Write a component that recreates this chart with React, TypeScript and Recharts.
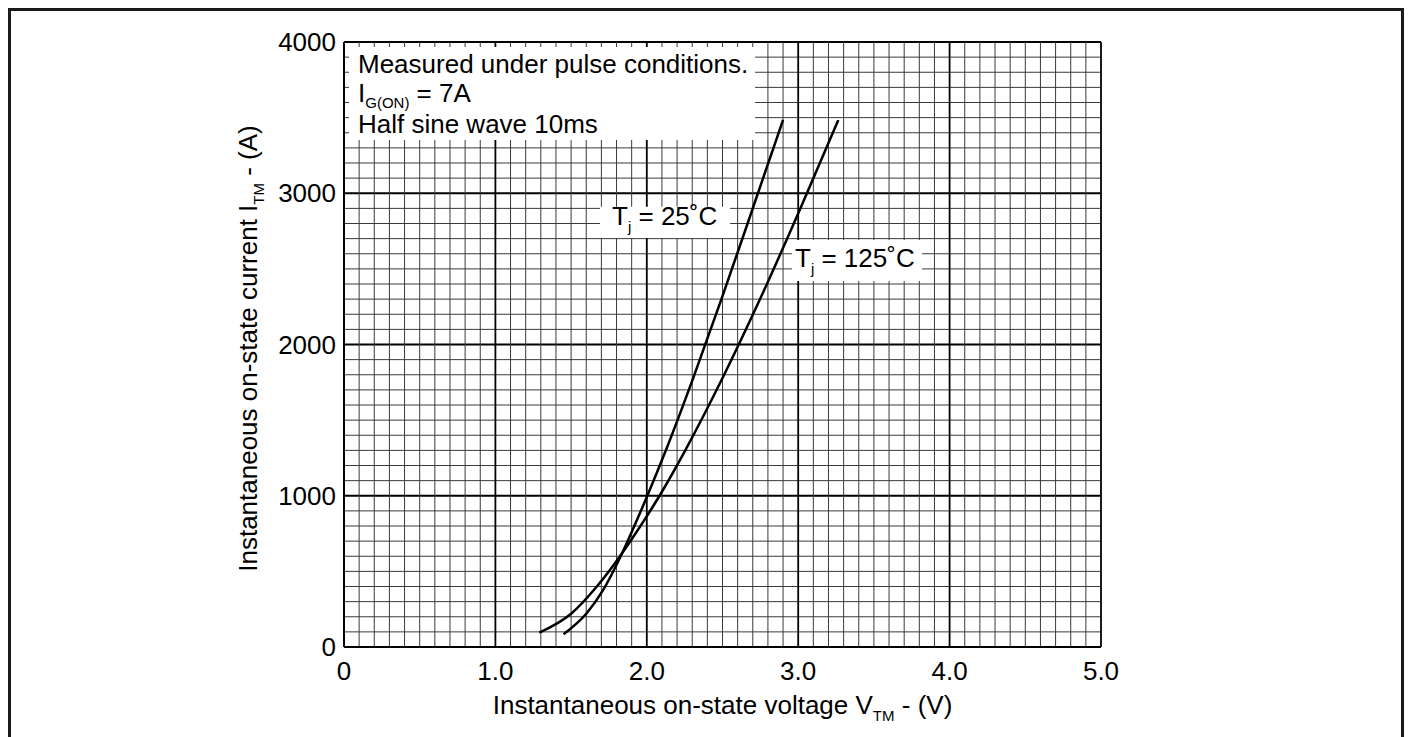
import React from 'react';
import { LineChart, Line, XAxis, YAxis, CartesianGrid, ReferenceArea } from 'recharts';

// grid steps: 0.1 V and 100 A, labels every 10th step
const voltTicks = Array.from({ length: 51 }, (_, k) => k / 10);
const currentTicks = Array.from({ length: 41 }, (_, k) => k * 100);
const voltLabels = ['0', '1.0', '2.0', '3.0', '4.0', '5.0'];
const currentLabels = ['0', '1000', '2000', '3000', '4000'];

// Tj = 25 C
const v25 = [1.45, 1.6, 1.71, 1.81, 1.87, 2.0, 2.13, 2.31, 2.5, 2.69, 2.9];
const i25 = [85, 220, 374, 564, 693, 992, 1311, 1788, 2320, 2871, 3485];

// Tj = 125 C
const v125 = [1.29, 1.5, 1.67, 1.81, 1.9, 2.09, 2.255, 2.51, 2.745, 3.01, 3.265];
const i125 = [95, 220, 400, 582, 712, 1010, 1302, 1798, 2294, 2889, 3485];

const tj25 = v25.map((v, k) => ({ v, i: i25[k] }));
const tj125 = v125.map((v, k) => ({ v, i: i125[k] }));

const FONT = '"Liberation Sans", Arial, Helvetica, sans-serif';

const gridLine = (p: any) => {
  const major = p.index % 10 === 0;
  return (
    <line
      key={p.key}
      x1={p.x1}
      y1={p.y1}
      x2={p.x2}
      y2={p.y2}
      stroke={major ? '#000' : '#3a3a3a'}
      strokeWidth={major ? 1.8 : 1}
    />
  );
};

const XTitle = (props: any) => {
  const { x, y, width } = props.viewBox;
  return (
    <text x={x + width / 2} y={y + 67} textAnchor="middle" fontSize={26} fontFamily={FONT} fill="#000">
      Instantaneous on-state voltage V
      <tspan fontSize={15} dy={7}>TM</tspan>
      <tspan dy={-7}> - (V)</tspan>
    </text>
  );
};

const YTitle = (props: any) => {
  const { x, y, height } = props.viewBox;
  const cx = x + 13;
  const cy = y + height / 2 + 4;
  return (
    <text
      x={cx}
      y={cy}
      textAnchor="middle"
      fontSize={26}
      fontFamily={FONT}
      fill="#000"
      transform={`rotate(-90 ${cx} ${cy})`}
    >
      Instantaneous on-state current I
      <tspan fontSize={15} dy={7}>TM</tspan>
      <tspan dy={-7}> - (A)</tspan>
    </text>
  );
};

const NoteText = (props: any) => {
  const { x, y } = props.viewBox;
  return (
    <text fontSize={26} fontFamily={FONT} fill="#000">
      <tspan x={x + 9} y={y + 26}>Measured under pulse conditions.</tspan>
      <tspan x={x + 9} y={y + 55}>I</tspan>
      <tspan fontSize={15} dy={6}>G(ON)</tspan>
      <tspan dy={-6}> = 7A</tspan>
      <tspan x={x + 9} y={y + 86}>Half sine wave 10ms</tspan>
    </text>
  );
};

const tjText = (temp: string, dx: number, dy: number) => (props: any) => {
  const { x, y } = props.viewBox;
  return (
    <text x={x + dx} y={y + dy} fontSize={26} fontFamily={FONT} fill="#000">
      T
      <tspan fontSize={15} dy={7}>j</tspan>
      <tspan dy={-7}>{` = ${temp}˚C`}</tspan>
    </text>
  );
};

const tickStyle = { fill: '#000', fontSize: 26, fontFamily: FONT };

const App = () => {
  return (
    <div
      style={{
        position: 'fixed',
        left: 8,
        top: 8,
        width: 1390,
        height: 760,
        borderTop: '3px solid #1a1a1a',
        borderLeft: '3px solid #1a1a1a',
        borderRight: '3px solid #1a1a1a',
        background: '#fff',
        fontFamily: FONT,
      }}
    >
      <LineChart width={1389} height={720} margin={{ top: 31, right: 299, left: 233, bottom: 44 }}>
        <CartesianGrid horizontal={gridLine} vertical={gridLine} />
        <XAxis
          type="number"
          dataKey="v"
          domain={[0, 5]}
          ticks={voltTicks}
          interval={0}
          allowDataOverflow
          tickFormatter={(_v: number, idx: number) => (idx % 10 === 0 ? voltLabels[idx / 10] : '')}
          tickLine={false}
          tickSize={6}
          tickMargin={9}
          height={40}
          axisLine={{ stroke: '#000', strokeWidth: 2 }}
          tick={tickStyle}
          label={XTitle}
        />
        <YAxis
          type="number"
          domain={[0, 4000]}
          ticks={currentTicks}
          interval={0}
          allowDataOverflow
          tickFormatter={(_v: number, idx: number) => (idx % 10 === 0 ? currentLabels[idx / 10] : '')}
          tickLine={false}
          tickSize={6}
          tickMargin={2}
          width={100}
          axisLine={{ stroke: '#000', strokeWidth: 2 }}
          tick={tickStyle}
          label={YTitle}
        />
        <ReferenceArea x1={0.033} x2={2.715} y1={3352} y2={3967} fill="#fff" fillOpacity={1} stroke="none" label={NoteText} />
        <ReferenceArea x1={1.691} x2={2.55} y1={2704} y2={2910} fill="#fff" fillOpacity={1} stroke="none" label={tjText('25', 12, 18)} />
        <ReferenceArea x1={2.959} x2={3.818} y1={2420} y2={2691} fill="#fff" fillOpacity={1} stroke="none" label={tjText('125', 3, 27)} />
        <Line data={tj25} dataKey="i" type="monotone" stroke="#000" strokeWidth={2.5} dot={false} isAnimationActive={false} />
        <Line data={tj125} dataKey="i" type="monotone" stroke="#000" strokeWidth={2.5} dot={false} isAnimationActive={false} />
      </LineChart>
    </div>
  );
};

export default App;
